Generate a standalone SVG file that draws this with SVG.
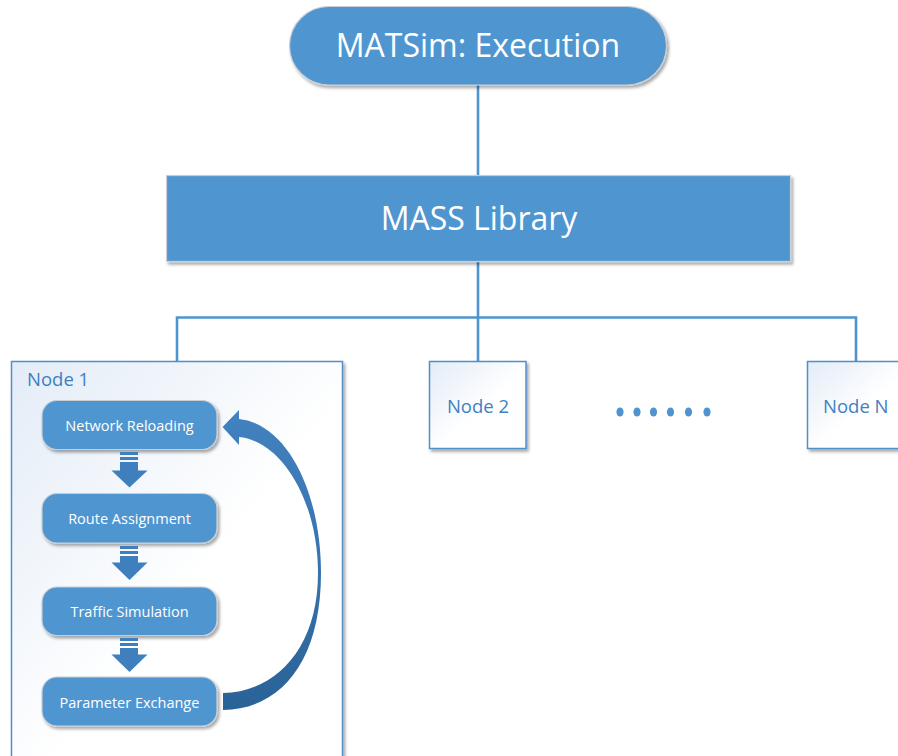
<svg xmlns="http://www.w3.org/2000/svg" width="898" height="756" viewBox="0 0 898 756">
<defs>
<filter id="sh" x="-10%" y="-10%" width="130%" height="140%">
<feDropShadow dx="2" dy="2.5" stdDeviation="1.5" flood-color="#000" flood-opacity="0.35"/>
</filter>
<linearGradient id="nodeBg" x1="0" y1="0" x2="1" y2="1">
<stop offset="0" stop-color="#e3ecf7"/>
<stop offset="0.55" stop-color="#ffffff"/>
<stop offset="1" stop-color="#ffffff"/>
</linearGradient>
<linearGradient id="curveGrad" gradientUnits="userSpaceOnUse" x1="0" y1="410" x2="0" y2="712">
<stop offset="0" stop-color="#4282c0"/>
<stop offset="0.5" stop-color="#3873ad"/>
<stop offset="1" stop-color="#296296"/>
</linearGradient>
<style>
.blue{fill:#4f96d0;stroke:#c9cfd6;stroke-width:1.2}
.node{fill:url(#nodeBg);stroke:#4f8fcc;stroke-width:1.5}
.conn{stroke:#4f94cf;stroke-width:2.6;fill:none}
.big{font-family:"Open Sans","Liberation Sans",sans-serif;font-size:32px;fill:#ffffff;text-anchor:middle}
.step{font-family:"Open Sans","Liberation Sans",sans-serif;font-size:14.5px;fill:#ffffff;text-anchor:middle}
.lbl{font-family:"Open Sans","Liberation Sans",sans-serif;font-size:18.5px;fill:#3f7fc2}
.darr{fill:#3f7fbd}
.dot{fill:#4f94cf}
</style>
</defs>
<rect width="898" height="756" fill="#ffffff"/>

<g id="connectors">
<line class="conn" x1="478" y1="85" x2="478" y2="176"/>
<line class="conn" x1="478" y1="262" x2="478" y2="362"/>
<polyline class="conn" points="177,362 177,317.5 856,317.5 856,362"/>
</g>

<g id="matsim">
<rect class="blue" x="289.5" y="6.5" width="377" height="78.5" rx="39.25" filter="url(#sh)"/>
<text class="big" x="478" y="57">MATSim: Execution</text>
</g>

<g id="mass">
<rect class="blue" x="166.5" y="175.5" width="624" height="86" filter="url(#sh)"/>
<text class="big" x="479" y="230">MASS Library</text>
</g>

<g id="node1">
<rect class="node" x="11.5" y="361.5" width="331" height="410" filter="url(#sh)"/>
<text class="lbl" x="27" y="386">Node 1</text>
</g>

<g id="network-reloading">
<rect class="blue" x="42" y="400.5" width="175" height="49" rx="15" filter="url(#sh)"/>
<text class="step" x="129.5" y="430.5">Network Reloading</text>
</g>
<g id="route-assignment">
<rect class="blue" x="42" y="493.5" width="175" height="49.5" rx="15" filter="url(#sh)"/>
<text class="step" x="129.5" y="524">Route Assignment</text>
</g>
<g id="traffic-simulation">
<rect class="blue" x="42" y="587" width="175" height="48.5" rx="15" filter="url(#sh)"/>
<text class="step" x="129.5" y="616.5">Traffic Simulation</text>
</g>
<g id="parameter-exchange">
<rect class="blue" x="42" y="677" width="175" height="49" rx="15" filter="url(#sh)"/>
<text class="step" x="129.5" y="707.5">Parameter Exchange</text>
</g>

<g id="step-arrows">
<g class="darr">
<rect x="120" y="452" width="18" height="3"/>
<rect x="120" y="457" width="18" height="3"/>
<rect x="120" y="462" width="18" height="9"/>
<polygon points="111.5,470.5 147.5,470.5 129.5,487.5"/>
</g>
<g class="darr">
<rect x="120" y="546" width="18" height="3"/>
<rect x="120" y="551" width="18" height="3"/>
<rect x="120" y="556" width="18" height="7"/>
<polygon points="111.5,562.5 147.5,562.5 129.5,580"/>
</g>
<g class="darr">
<rect x="120" y="638" width="18" height="3"/>
<rect x="120" y="643" width="18" height="3"/>
<rect x="120" y="648" width="18" height="7"/>
<polygon points="111.5,654.5 147.5,654.5 129.5,672"/>
</g>
</g>

<g id="loop-arrow">
<path fill="url(#curveGrad)" d="M223,710 C282,709 321,660 321,573 C321,492 287,424 239,419 L239,410 L222.5,427 L239,445 L239,437 C281,441 318,500 318,573 C318,648 276,692 223,693 Z"/>
</g>

<g id="node2">
<rect class="node" x="429.5" y="361.5" width="96.5" height="87" filter="url(#sh)"/>
<text class="lbl" x="478" y="413" text-anchor="middle">Node 2</text>
</g>

<g id="ellipsis">
<ellipse class="dot" cx="620" cy="412" rx="3.6" ry="4.6"/>
<ellipse class="dot" cx="637" cy="412" rx="3.6" ry="4.6"/>
<ellipse class="dot" cx="653.5" cy="412" rx="3.6" ry="4.6"/>
<ellipse class="dot" cx="670.5" cy="412" rx="3.6" ry="4.6"/>
<ellipse class="dot" cx="688.5" cy="412" rx="3.6" ry="4.6"/>
<ellipse class="dot" cx="707" cy="412" rx="3.6" ry="4.6"/>
</g>

<g id="nodeN">
<rect class="node" x="807.5" y="361.5" width="100" height="87" filter="url(#sh)"/>
<text class="lbl" x="823" y="413">Node N</text>
</g>
</svg>
